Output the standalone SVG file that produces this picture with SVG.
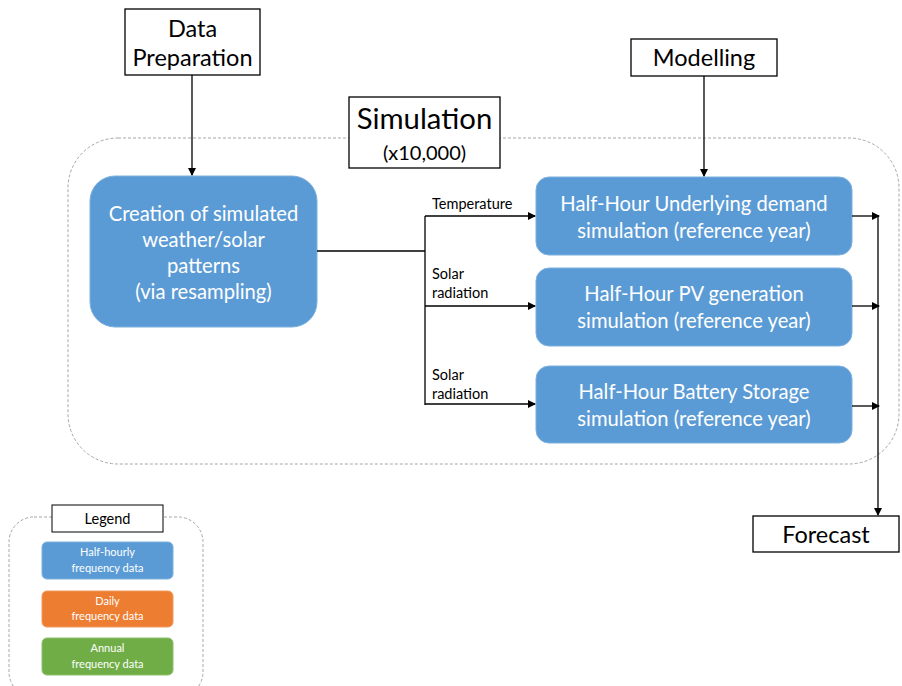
<svg xmlns="http://www.w3.org/2000/svg" width="902" height="686" viewBox="0 0 902 686">
<style>
text{font-family:Lato,"Open Sans","Liberation Sans",sans-serif;text-anchor:middle}
.wb{fill:#fff;stroke:#000;stroke-width:1.3}
.blue{fill:#5B9BD5;stroke:#7DB0DE;stroke-width:1}
.orange{fill:#ED7D31;stroke:#F09A5E;stroke-width:1}
.green{fill:#70AD47;stroke:#8CC06A;stroke-width:1}
.dash{fill:none;stroke:#A6A6A6;stroke-width:1;stroke-dasharray:3 2}
.t22{font-size:23.5px;fill:#000}
.tw{font-size:20.2px;fill:#fff}
.ts{font-size:14.5px;fill:#000;text-anchor:start}
.tl{font-size:11px;fill:#fff}
.c{fill:none;stroke:#000;stroke-width:1.3}
</style>
<defs>
<marker id="ah" markerWidth="8" markerHeight="8" refX="7" refY="4" orient="auto" markerUnits="userSpaceOnUse">
<path d="M0,0 L8,4 L0,8 Z" fill="#000"/>
</marker>
</defs>
<rect class="dash" x="68" y="138" width="831" height="326" rx="50"/>
<g id="simulation">
<rect class="wb" x="349" y="97" width="151" height="71"/>
<text x="424.5" y="129" style="font-size:29.3px">Simulation</text>
<text x="424.5" y="160" style="font-size:20px">(x10,000)</text>
</g>
<g id="data-prep">
<rect class="wb" x="125" y="9" width="135" height="66"/>
<text class="t22" x="192.5" y="37">Data</text>
<text class="t22" x="192.5" y="66">Preparation</text>
</g>
<g id="modelling">
<rect class="wb" x="631" y="39" width="146" height="37"/>
<text class="t22" x="704" y="66">Modelling</text>
</g>
<g id="creation">
<rect class="blue" x="90" y="176" width="227" height="151" rx="25"/>
<text class="tw" x="203.5" y="221">Creation of simulated</text>
<text class="tw" x="203.5" y="247">weather/solar</text>
<text class="tw" x="203.5" y="273">patterns</text>
<text class="tw" x="203.5" y="299">(via resampling)</text>
</g>
<g id="demand">
<rect class="blue" x="536" y="177" width="316" height="78" rx="13"/>
<text class="tw" x="694" y="211">Half-Hour Underlying demand</text>
<text class="tw" x="694" y="238">simulation (reference year)</text>
</g>
<g id="pv">
<rect class="blue" x="536" y="268" width="316" height="78" rx="13"/>
<text class="tw" x="694" y="301">Half-Hour PV generation</text>
<text class="tw" x="694" y="328">simulation (reference year)</text>
</g>
<g id="battery">
<rect class="blue" x="536" y="366" width="316" height="77" rx="13"/>
<text class="tw" x="694" y="399">Half-Hour Battery Storage</text>
<text class="tw" x="694" y="426">simulation (reference year)</text>
</g>
<g id="forecast">
<rect class="wb" x="753" y="516" width="146" height="36"/>
<text class="t22" x="826" y="543">Forecast</text>
</g>
<g id="connectors">
<line class="c" x1="192" y1="75" x2="192" y2="175" marker-end="url(#ah)"/>
<line class="c" x1="704" y1="76" x2="704" y2="176" marker-end="url(#ah)"/>
<polyline class="c" points="317,251 425,251"/>
<line class="c" x1="425" y1="216" x2="425" y2="405"/>
<line class="c" x1="425" y1="216" x2="535" y2="216" marker-end="url(#ah)"/>
<line class="c" x1="425" y1="306" x2="535" y2="306" marker-end="url(#ah)"/>
<line class="c" x1="425" y1="404" x2="535" y2="404" marker-end="url(#ah)"/>
<line class="c" x1="852" y1="216" x2="879" y2="216" marker-end="url(#ah)"/>
<line class="c" x1="852" y1="306" x2="879" y2="306" marker-end="url(#ah)"/>
<line class="c" x1="852" y1="406" x2="879" y2="406" marker-end="url(#ah)"/>
<line class="c" x1="878" y1="216" x2="878" y2="515" marker-end="url(#ah)"/>
<text class="ts" x="432" y="209">Temperature</text>
<text class="ts" x="432" y="279">Solar</text>
<text class="ts" x="432" y="298">radiation</text>
<text class="ts" x="432" y="380">Solar</text>
<text class="ts" x="432" y="399">radiation</text>
</g>
<g id="legend">
<rect class="dash" x="9" y="517" width="194" height="180" rx="25"/>
<rect class="wb" x="52" y="505" width="111" height="27" style="stroke-width:1"/>
<text x="107.5" y="524" style="font-size:14.5px">Legend</text>
<rect class="blue" x="42" y="542" width="131" height="37" rx="5"/>
<text class="tl" x="107.5" y="556">Half-hourly</text>
<text class="tl" x="107.5" y="572">frequency data</text>
<rect class="orange" x="42" y="591" width="131" height="36" rx="5"/>
<text class="tl" x="107.5" y="605">Daily</text>
<text class="tl" x="107.5" y="620">frequency data</text>
<rect class="green" x="42" y="638" width="131" height="37" rx="5"/>
<text class="tl" x="107.5" y="652">Annual</text>
<text class="tl" x="107.5" y="668">frequency data</text>
</g>
</svg>
